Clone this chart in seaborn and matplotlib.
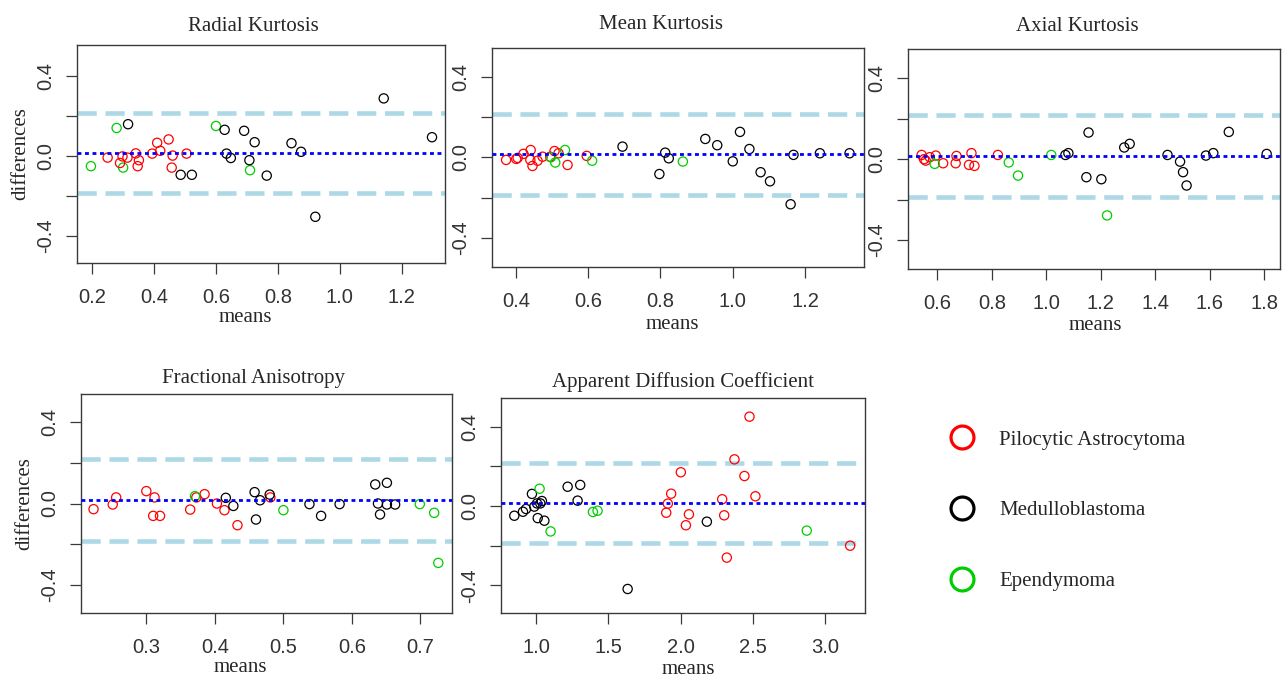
import numpy as np
import pandas as pd
import matplotlib
matplotlib.use("Agg")
import matplotlib.pyplot as plt
import seaborn as sns
from matplotlib.lines import Line2D

# ---------------- data ----------------
GROUP_NAMES = ["Pilocytic Astrocytoma", "Medulloblastoma", "Ependymoma"]
GROUP_COLORS = ["#FF0000", "#000000", "#00CD00"]

BIAS = 0.015
LOA_UPPER = 0.217
LOA_LOWER = -0.187

# Radial Kurtosis
rk_means = [0.196, 0.279, 0.300, 0.600, 0.710,
            0.316, 0.486, 0.522, 0.628, 0.634, 0.648, 0.691, 0.725, 0.708, 0.764, 0.844, 0.875, 0.921, 1.142, 1.298,
            0.250, 0.290, 0.298, 0.314, 0.341, 0.351, 0.347, 0.394, 0.410, 0.420, 0.447, 0.460, 0.457, 0.505]
rk_diffs = [-0.051, 0.140, -0.058, 0.150, -0.071,
            0.159, -0.094, -0.094, 0.131, 0.012, -0.010, 0.126, 0.069, -0.021, -0.098, 0.064, 0.021, -0.304, 0.288, 0.094,
            -0.008, -0.035, -0.002, -0.008, 0.013, -0.021, -0.051, 0.012, 0.066, 0.026, 0.083, 0.002, -0.058, 0.012]
rk_group = ["E"] * 5 + ["M"] * 15 + ["P"] * 14

# Mean Kurtosis
mk_means = [0.373, 0.401, 0.405, 0.421, 0.441, 0.440, 0.446, 0.460, 0.474, 0.495, 0.507, 0.518, 0.543, 0.596,
            0.497, 0.509, 0.536, 0.611, 0.862,
            0.695, 0.797, 0.813, 0.823, 0.924, 0.957, 1.000, 1.020, 1.046, 1.077, 1.103, 1.160, 1.168, 1.241, 1.323]
mk_diffs = [-0.013, -0.008, -0.003, 0.017, 0.036, -0.013, -0.043, -0.017, 0.003, 0.003, 0.031, 0.020, -0.038, 0.007,
            0.000, -0.026, 0.036, -0.017, -0.021,
            0.053, -0.083, 0.023, -0.005, 0.091, 0.060, -0.020, 0.126, 0.041, -0.074, -0.119, -0.233, 0.012, 0.020, 0.020]
mk_group = ["P"] * 14 + ["E"] * 5 + ["M"] * 15

# Axial Kurtosis
ak_means = [0.542, 0.551, 0.557, 0.572, 0.594, 0.621, 0.670, 0.667, 0.725, 0.716, 0.736, 0.822,
            0.590, 0.862, 0.896, 1.018, 1.223,
            1.070, 1.081, 1.155, 1.147, 1.202, 1.286, 1.306, 1.445, 1.491, 1.502, 1.515, 1.586, 1.613, 1.670, 1.809]
ak_diffs = [0.021, 0.000, -0.007, 0.010, 0.018, -0.020, 0.016, -0.020, 0.030, -0.028, -0.033, 0.021,
            -0.023, -0.016, -0.081, 0.021, -0.278,
            0.021, 0.030, 0.132, -0.089, -0.099, 0.058, 0.076, 0.021, -0.012, -0.064, -0.130, 0.018, 0.030, 0.135, 0.026]
ak_group = ["P"] * 12 + ["E"] * 5 + ["M"] * 15

# Fractional Anisotropy
fa_means = [0.223, 0.251, 0.256, 0.300, 0.312, 0.310, 0.320, 0.364, 0.373, 0.385, 0.403, 0.414, 0.433, 0.481,
            0.371, 0.500, 0.699, 0.720, 0.726,
            0.416, 0.427, 0.458, 0.466, 0.480, 0.460, 0.538, 0.555, 0.582, 0.634, 0.651, 0.638, 0.641, 0.651, 0.663]
fa_diffs = [-0.028, -0.005, 0.030, 0.061, 0.030, -0.061, -0.061, -0.030, 0.030, 0.046, 0.000, -0.033, -0.107, 0.030,
            0.036, -0.033, -0.003, -0.046, -0.293,
            0.028, -0.012, 0.056, 0.016, 0.044, -0.079, -0.003, -0.061, -0.003, 0.094, 0.102, 0.000, -0.054, -0.005, -0.005]
fa_group = ["P"] * 14 + ["E"] * 5 + ["M"] * 15

# Apparent Diffusion Coefficient
adc_means = [0.850, 0.910, 0.931, 0.972, 0.988, 1.007, 1.030, 1.041, 1.012, 1.058, 1.219, 1.306, 1.288, 1.634, 2.182,
             1.025, 1.101, 1.394, 1.426, 2.873,
             1.901, 1.912, 1.935, 2.002, 2.037, 2.058, 2.288, 2.302, 2.320, 2.373, 2.442, 2.477, 2.518, 3.173]
adc_diffs = [-0.049, -0.029, -0.015, 0.061, -0.003, 0.013, 0.013, 0.025, -0.061, -0.074, 0.097, 0.106, 0.027, -0.418, -0.079,
             0.087, -0.128, -0.030, -0.024, -0.124,
             -0.034, 0.012, 0.062, 0.170, -0.097, -0.042, 0.034, -0.047, -0.260, 0.235, 0.151, 0.450, 0.049, -0.200]
adc_group = ["M"] * 15 + ["E"] * 5 + ["P"] * 14

TITLES = ["Radial Kurtosis", "Mean Kurtosis", "Axial Kurtosis",
          "Fractional Anisotropy", "Apparent Diffusion Coefficient"]

# ---------------- style ----------------
sns.set_theme(style="ticks")
plt.rcParams["font.family"] = ["Liberation Serif", "DejaVu Serif"]

W, H = 1287, 682
fig = plt.figure(figsize=(W / 100, H / 100), dpi=100)
fig.patch.set_facecolor("white")

code_to_name = {"P": GROUP_NAMES[0], "M": GROUP_NAMES[1], "E": GROUP_NAMES[2]}
palette = dict(zip(GROUP_NAMES, GROUP_COLORS))

# layout of each panel (pixel boxes in the picture)
panels = [
    dict(m=rk_means, d=rk_diffs, g=rk_group, box=(77, 45, 445, 263), xlim=(0.151, 1.34), ylim=(-0.535, 0.555),
         xticks=[0.2, 0.4, 0.6, 0.8, 1.0, 1.2], tpad=10, tx=0.478, lx=0.457, ly=-0.25, ylab=True),
    dict(m=mk_means, d=mk_diffs, g=mk_group, box=(492, 48, 864, 267), xlim=(0.334, 1.363), ylim=(-0.544, 0.542),
         xticks=[0.4, 0.6, 0.8, 1.0, 1.2], tpad=14, tx=0.454, lx=0.484, ly=-0.263, ylab=False),
    dict(m=ak_means, d=ak_diffs, g=ak_group, box=(908, 49, 1280, 269), xlim=(0.492, 1.858), ylim=(-0.543, 0.545),
         xticks=[0.6, 0.8, 1.0, 1.2, 1.4, 1.6, 1.8], tpad=13, tx=0.454, lx=0.503, ly=-0.255, ylab=False),
    dict(m=fa_means, d=fa_diffs, g=fa_group, box=(81, 394, 452, 613), xlim=(0.2047, 0.746), ylim=(-0.54, 0.54),
         xticks=[0.3, 0.4, 0.5, 0.6, 0.7], tpad=8, tx=0.464, lx=0.43, ly=-0.25, ylab=True),
    dict(m=adc_means, d=adc_diffs, g=adc_group, box=(501, 398, 865, 613), xlim=(0.758, 3.276), ylim=(-0.539, 0.544),
         xticks=[1.0, 1.5, 2.0, 2.5, 3.0], tpad=8, tx=0.5, lx=0.514, ly=-0.262, ylab=False),
]

AX_COLOR = "#3a3a3a"
for title, p in zip(TITLES, panels):
    x0, y0, x1, y1 = p["box"]
    ax = fig.add_axes([x0 / W, 1 - y1 / H, (x1 - x0) / W, (y1 - y0) / H])
    ax.set_facecolor("white")
    df = pd.DataFrame({"means": p["m"], "differences": p["d"],
                       "group": [code_to_name[c] for c in p["g"]]})
    sns.scatterplot(data=df, x="means", y="differences", hue="group", palette=palette,
                    hue_order=GROUP_NAMES, marker="o", s=44, linewidth=0.9,
                    legend=False, ax=ax, zorder=3)
    coll = ax.collections[-1]
    fcs = coll.get_facecolors()
    coll.set_edgecolors(fcs)
    coll.set_facecolors("none")

    ax.axhline(BIAS, color="#0000FF", lw=2.0, ls=(0, (1.4, 1.3)), zorder=4)
    ax.axhline(LOA_UPPER, color="#ADD8E6", lw=3.3, ls=(0, (4.2, 1.9)), zorder=2)
    ax.axhline(LOA_LOWER, color="#ADD8E6", lw=3.3, ls=(0, (4.2, 1.9)), zorder=2)

    ax.set_xlim(*p["xlim"])
    ax.set_ylim(*p["ylim"])
    ax.set_xticks(p["xticks"])
    ax.set_xticklabels([f"{v:.1f}" for v in p["xticks"]], family=["Liberation Sans"], fontsize=14.5,
                       color="#333333")
    ax.set_yticks([-0.4, -0.2, 0.0, 0.2, 0.4])
    ax.set_yticklabels(["-0.4", "", "0.0", "", "0.4"], family=["Liberation Sans"], fontsize=14.5,
                       rotation=90, va="center", color="#333333")
    ax.tick_params(axis="both", direction="out", length=8, width=0.9, color=AX_COLOR)
    ax.tick_params(axis="x", pad=10)
    ax.tick_params(axis="y", pad=8)
    for sp in ax.spines.values():
        sp.set_visible(True)
        sp.set_color(AX_COLOR)
        sp.set_linewidth(1.0)

    ax.set_title(title, fontsize=15, pad=p["tpad"], x=p["tx"])
    ax.set_xlabel("means", fontsize=15, va="center")
    ax.xaxis.set_label_coords(p["lx"], p["ly"])
    if p["ylab"]:
        ax.set_ylabel("differences", fontsize=15, va="center")
        ax.yaxis.set_label_coords(-(56 / (x1 - x0)), 0.5)
    else:
        ax.set_ylabel("")

# legend
handles = [Line2D([], [], ls="none", marker="o", markersize=16.5, markerfacecolor="none",
                  markeredgecolor=c, markeredgewidth=2.3) for c in GROUP_COLORS]
fig.legend(handles, GROUP_NAMES, loc="upper left", bbox_to_anchor=(946 / W, 1 - 430 / H),
           frameon=False, fontsize=15, labelspacing=2.45, handlelength=1.5, handletextpad=1.05,
           borderpad=0, borderaxespad=0)

fig.savefig("out.png", dpi=100, facecolor="white")
